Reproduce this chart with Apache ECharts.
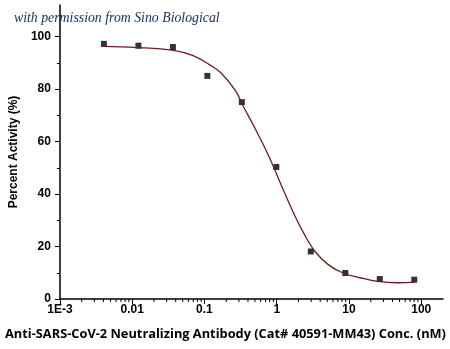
<!DOCTYPE html>
<html>
<head>
<meta charset="utf-8">
<script src="https://cdn.jsdelivr.net/npm/echarts@6/dist/echarts.min.js"></script>
<style>html,body{margin:0;padding:0;background:#fff;}#c{width:450px;height:349px;}</style>
</head>
<body>
<div id="c"></div>
<script>
// Measured points
var concX = [0.00406, 0.0122, 0.0366, 0.1097, 0.329, 0.988, 2.963, 8.89, 26.67, 80];
var activityY = [97.2, 96.5, 96.0, 85.0, 75.0, 50.3, 18.1, 9.9, 7.6, 7.35];
// Fitted curve
var curveX = [0.00387, 0.0117, 0.0372, 0.0697, 0.118, 0.170, 0.273, 0.336, 0.512, 0.781, 1.19, 1.63, 2.36, 3.39, 5.17, 8.30, 14.8, 25.0, 47.0, 79.3];
var curveY = [96.2, 95.8, 94.7, 92.7, 89.2, 86.1, 79.1, 74.0, 64.5, 54.3, 42.6, 34.0, 25.1, 18.1, 13.1, 9.9, 8.0, 6.7, 6.2, 6.3];
// Tick labels
var xMajorTicks = [0.001, 0.01, 0.1, 1, 10, 100];
var xTickLabels = ['1E-3', '0.01', '0.1', '1', '10', '100'];
var xMinorTicks = [0.002,0.003,0.004,0.005,0.006,0.007,0.008,0.009,
                   0.02,0.03,0.04,0.05,0.06,0.07,0.08,0.09,
                   0.2,0.3,0.4,0.5,0.6,0.7,0.8,0.9,
                   2,3,4,5,6,7,8,9,
                   20,30,40,50,60,70,80,90];
var yMajorTicks = [0, 20, 40, 60, 80, 100];
var yMinorTicks = [10, 30, 50, 70, 90];

var chart = echarts.init(document.getElementById('c'), null, {renderer: 'canvas'});
var lblFont = {fontFamily: 'Liberation Sans, Arial, sans-serif', fontWeight: 'bold', fontSize: 12, color: '#000'};

function xFmt(v) {
  for (var i = 0; i < xMajorTicks.length; i++) {
    if (Math.abs(Math.log10(v) - Math.log10(xMajorTicks[i])) < 1e-6) return xTickLabels[i];
  }
  return '';
}

var option = {
  animation: false,
  backgroundColor: '#fff',
  title: [
    {text: 'with permission from Sino Biological', left: 9, top: 6,
     textStyle: {fontFamily: 'Liberation Serif, serif', fontStyle: 'italic', fontWeight: 'normal', fontSize: 13.8, color: '#1f2f6e'}},
    {text: 'Anti-SARS-CoV-2 Neutralizing Antibody (Cat# 40591-MM43) Conc. (nM)', left: 0, top: 323,
     textStyle: {fontFamily: 'Open Sans, sans-serif', fontWeight: 'bold', fontSize: 12.8, color: '#000'}}
  ],
  grid: {left: 55, right: 7, top: 5, bottom: 50, containLabel: false},
  xAxis: [
    {type: 'log', logBase: 10, min: 0.001, max: 200,
     axisLine: {show: true, lineStyle: {color: '#000', width: 1.5}},
     axisTick: {show: true, length: 5, lineStyle: {color: '#000', width: 1}},
     axisLabel: {show: true, margin: 5, formatter: xFmt, showMaxLabel: false, showMinLabel: true, ...lblFont},
     splitLine: {show: false}, minorTick: {show: false}}
  ],
  yAxis: [
    {type: 'value', min: 0, max: 112,
     name: 'Percent Activity (%)', nameLocation: 'middle', nameGap: 33,
     nameTextStyle: {fontFamily: 'Liberation Sans, Arial, sans-serif', fontWeight: 'bold', fontSize: 12, color: '#000'},
     axisLine: {show: true, lineStyle: {color: '#000', width: 1.5}},
     axisTick: {show: true, length: 5, customValues: yMajorTicks, lineStyle: {color: '#000', width: 1}},
     axisLabel: {show: true, margin: 9, customValues: yMajorTicks, ...lblFont},
     splitLine: {show: false}},
    {type: 'value', min: 0, max: 112, position: 'left',
     axisLine: {show: false},
     axisTick: {show: true, length: 3, customValues: yMinorTicks, lineStyle: {color: '#000', width: 1}},
     axisLabel: {show: false}, splitLine: {show: false}}
  ],
  series: [
    {type: 'line', xAxisIndex: 0, yAxisIndex: 0, smooth: 0.4, showSymbol: false,
     lineStyle: {color: '#6b1d1d', width: 1.3},
     data: curveX.map(function (x, i) { return [x, curveY[i]]; })},
    {type: 'scatter', xAxisIndex: 0, yAxisIndex: 0, symbol: 'rect', symbolSize: 6,
     itemStyle: {color: '#000'},
     data: concX.map(function (x, i) { return [x, activityY[i]]; })},
    {type: 'custom', xAxisIndex: 0, yAxisIndex: 0, clip: false, silent: true,
     data: xMinorTicks.map(function (v) { return [v, 0]; }),
     renderItem: function (params, api) {
       var p = api.coord([api.value(0), 0]);
       return {type: 'line', shape: {x1: p[0], y1: p[1], x2: p[0], y2: p[1] + 3},
               style: {stroke: '#000', lineWidth: 1}};
     }}
  ]
};
chart.setOption(option);
</script>
</body>
</html>
